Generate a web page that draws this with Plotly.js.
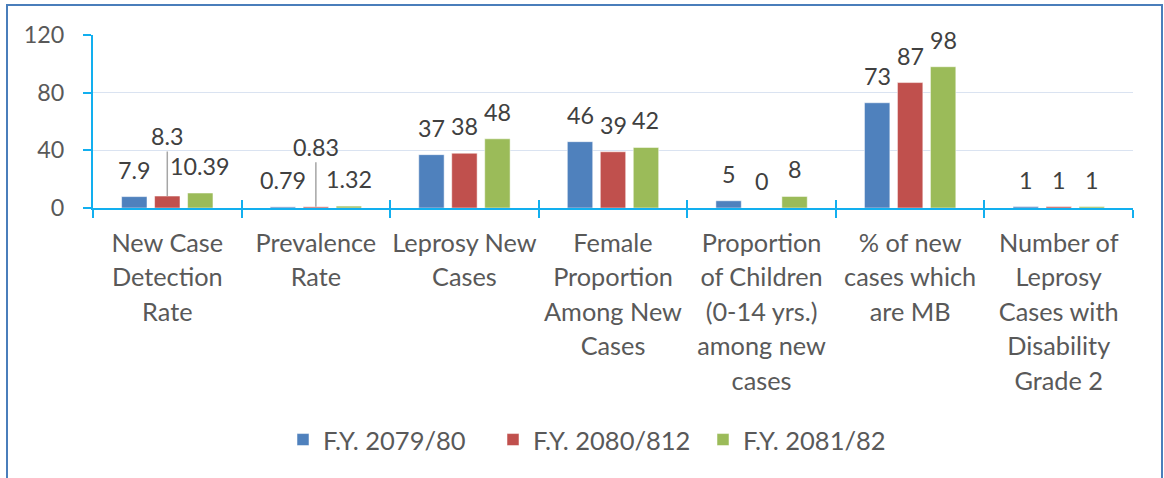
<!DOCTYPE html>
<html>
<head>
<meta charset="utf-8">
<script src="https://cdn.plot.ly/plotly-3.0.1.min.js"></script>
<style>html,body{margin:0;padding:0;background:#fff;}</style>
</head>
<body>
<div id="chart" style="width:1164px;height:478px;"></div>
<script>
// ---- data ----
const categories = [
  ["New Case", "Detection", "Rate"],
  ["Prevalence", "Rate"],
  ["Leprosy New", "Cases"],
  ["Female", "Proportion", "Among New", "Cases"],
  ["Proportion", "of Children", "(0-14 yrs.)", "among new", "cases"],
  ["% of new", "cases which", "are MB"],
  ["Number of", "Leprosy", "Cases with", "Disability", "Grade 2"]
];
const seriesNames = ["F.Y. 2079/80", "F.Y. 2080/812", "F.Y. 2081/82"];
const fy2079_80 = [7.9, 0.79, 37, 46, 5, 73, 1];
const fy2080_81 = [8.3, 0.83, 38, 39, 0, 87, 1];
const fy2081_82 = [10.39, 1.32, 48, 42, 8, 98, 1];
const yTicks = [0, 40, 80, 120];
// labels that Excel moved up with a leader line: [category index, series index]
const leaderLabels = [[0, 1], [1, 1]];

// ---- style ----
const colors = ["#4F81BD", "#C0504D", "#9BBB59"];
const FONT = "Lato, 'Open Sans', sans-serif";
const TXT = 23.3;
const CAT = 25.3;
const axisColor = "#12AFEF";
const M = {l: 93, r: 31, t: 35, b: 270};
const W = 1164, H = 478;
const bargap = 0.334, bargroupgap = 0.23;

const series = [fy2079_80, fy2080_81, fy2081_82];
const xcat = categories.map(lines =>
  lines.map(l => `<span style="font-size:${CAT}px">${l}</span>`).join("<br>"));

const traces = series.map((vals, s) => ({
  type: "bar",
  name: seriesNames[s],
  x: xcat,
  y: vals,
  marker: {color: colors[s], line: {color: "rgba(255,255,255,0.5)", width: 1}},
  hoverinfo: "skip"
}));
// invisible trace carrying the categories for the overlay axis (cross ticks)
traces.push({
  type: "scatter", mode: "markers", x: xcat, y: xcat.map(() => 0),
  xaxis: "x2", yaxis: "y", marker: {opacity: 0}, showlegend: false, hoverinfo: "skip"
});

const plotW = W - M.l - M.r;
const plotH = H - M.t - M.b;
const slot = plotW / categories.length * (1 - bargap) / series.length;

const annotations = [];
series.forEach((vals, s) => {
  vals.forEach((v, i) => {
    const lead = leaderLabels.some(p => p[0] === i && p[1] === s);
    const a = {
      x: xcat[i], y: v, xref: "x", yref: "y",
      text: String(v),
      font: {family: FONT, size: TXT, color: "#404040"},
      xshift: (s - (series.length - 1) / 2) * slot
    };
    if (lead) {
      Object.assign(a, {showarrow: true, ax: 0, ay: -60, arrowhead: 0, arrowwidth: 1.5,
        arrowcolor: "#A6A6A6", standoff: 0});
    } else {
      Object.assign(a, {showarrow: false, yanchor: "middle", yshift: 27});
    }
    annotations.push(a);
  });
});

const layout = {
  width: W, height: H,
  margin: M,
  paper_bgcolor: "#ffffff",
  plot_bgcolor: "#ffffff",
  barmode: "group",
  bargap: bargap,
  bargroupgap: bargroupgap,
  font: {family: FONT, color: "#595959"},
  xaxis: {
    type: "category",
    range: [-0.5, categories.length - 0.5],
    showline: true, linecolor: axisColor, linewidth: 2,
    ticks: "outside", ticklen: 8, tickwidth: 2, tickcolor: axisColor,
    tickson: "boundaries",
    tickangle: 0,
    tickfont: {family: FONT, size: 26.5, color: "#595959"},
    ticklabelstandoff: 10,
    showgrid: false, zeroline: false, automargin: false, fixedrange: true
  },
  xaxis2: {
    type: "category", overlaying: "x", anchor: "y", side: "bottom",
    categoryorder: "array", categoryarray: xcat,
    range: [-0.5, categories.length - 0.5],
    showline: false, showgrid: false, zeroline: false, showticklabels: false,
    ticks: "inside", ticklen: 8, tickwidth: 2, tickcolor: axisColor,
    tickson: "boundaries", automargin: false
  },
  yaxis: {
    range: [0, 120],
    tickmode: "array", tickvals: yTicks, ticktext: yTicks.map(String),
    showline: true, linecolor: axisColor, linewidth: 2,
    ticks: "outside", ticklen: 8, tickwidth: 2, tickcolor: axisColor,
    showgrid: true, gridcolor: "#DAE3F1", gridwidth: 1.5,
    zeroline: false,
    tickfont: {family: FONT, size: TXT, color: "#595959"},
    ticklabelstandoff: 14,
    automargin: false, fixedrange: true
  },
  showlegend: true,
  legend: {
    orientation: "h", x: 0.5 - 15 / plotW, xanchor: "center",
    y: (H - M.b - 440) / plotH, yanchor: "middle",
    font: {family: FONT, size: 25.5, color: "#595959"},
    entrywidth: 165, entrywidthmode: "pixels",
    traceorder: "normal", itemclick: false
  },
  annotations: annotations,
  shapes: [{
    type: "rect", xref: "paper", yref: "paper", layer: "above",
    x0: (7 - M.l) / plotW, x1: (1162 - M.l) / plotW,
    y0: (H - M.b - H - 20) / plotH, y1: 1 + (M.t - 5) / plotH,
    line: {color: "#4A7EBB", width: 2}, fillcolor: "rgba(0,0,0,0)"
  }]
};

Plotly.newPlot("chart", traces, layout, {displayModeBar: false, staticPlot: true});
</script>
</body>
</html>
